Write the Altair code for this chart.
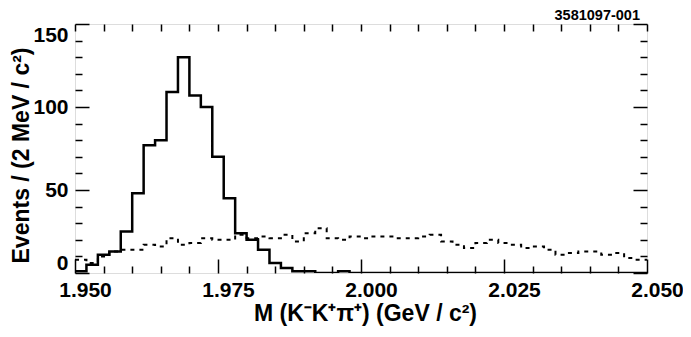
import altair as alt
import pandas as pd

# Histogram bins: 50 bins of 2 MeV from 1.950 to 2.050 GeV
x_start = 1.950
bin_width = 0.002
n_bins = 50

solid = [1, 5, 11, 13, 25, 48, 77, 80, 109, 130,
         107, 100, 70, 45, 24, 20, 14, 6, 3, 1,
         1, 0, 0, 1, 0, 0, 0, 0, 0, 0,
         0, 0, 0, 0, 0, 0, 0, 0, 0, 0,
         0, 0, 0, 0, 0, 0, 0, 0, 0, 0]

dashed = [8, 6, 10, 13, 14, 14, 17, 16, 21, 17,
          18, 21, 20, 20, 23, 21, 22, 21, 23, 19,
          24, 27, 21, 20, 22, 21, 22, 22, 21, 21,
          22, 23, 19, 17, 15, 18, 20, 18, 17, 15,
          16, 14, 11, 12, 13, 13, 11, 12, 9, 8]

x_labels = [1.950, 1.975, 2.000, 2.025, 2.050]
y_labels = [0, 50, 100, 150]
x_minor = [round(1.950 + 0.005 * k, 3) for k in range(21)]
y_minor = list(range(0, 151, 10))
figure_id = ["3581097-001"]

edges = [round(x_start + bin_width * i, 3) for i in range(n_bins + 1)]
df = pd.DataFrame({
    "m": edges,
    "solid": solid + [solid[-1]],
    "dashed": dashed + [dashed[-1]],
})

W, H = 572, 249
FONT = "Liberation Sans"

xscale = alt.Scale(domain=[1.95, 2.05], nice=False, zero=False)
yscale = alt.Scale(domain=[0, 150], nice=False, zero=False)

x_major_test = "abs(datum.value*40 - round(datum.value*40)) < 0.001"
y_major_test = "datum.value % 50 === 0"

base = alt.Chart(df)

solid_line = base.mark_line(interpolate="step-after", color="black",
                            strokeWidth=2.5, clip=True).encode(
    x=alt.X("m:Q", scale=xscale,
            axis=alt.Axis(orient="bottom", values=x_labels, format=".3f",
                          ticks=False, domain=False, grid=False,
                          labelOffset=10, labelPadding=6,
                          labelFont=FONT, labelFontSize=21, labelFontWeight="bold",
                          labelColor="black", labelFlush=False,
                          title="M (K\u207bK\u207a\u03c0\u207a) (GeV / c\u00b2)",
                          titleFont=FONT, titleFontSize=23, titleFontWeight="bold",
                          titleColor="black", titleX=290, titleY=47,
                          titleBaseline="alphabetic")),
    y=alt.Y("solid:Q", scale=yscale,
            axis=alt.Axis(orient="left", values=y_labels, ticks=False,
                          domain=False, grid=False, labelPadding=7,
                          labelFont=FONT, labelFontSize=21, labelFontWeight="bold",
                          labelColor="black", labelFlush=True, labelFlushOffset=0,
                          title="Events / (2 MeV / c\u00b2)",
                          titleFont=FONT, titleFontSize=23, titleFontWeight="bold",
                          titleColor="black", titleX=-47, titleY=131,
                          titleAngle=-90, titleAlign="center",
                          titleBaseline="alphabetic")),
)

dashed_line = base.mark_line(interpolate="step-after", color="black",
                             strokeWidth=2, strokeDash=[4, 5], clip=True).encode(
    x=alt.X("m:Q", scale=xscale,
            axis=alt.Axis(orient="top", offset=-H, values=x_minor,
                          labels=False, domain=False, grid=False, title=None,
                          tickColor="black", tickWidth=1.5,
                          tickSize={"condition": {"test": x_major_test, "value": 14}, "value": 7})),
    y=alt.Y("dashed:Q", scale=yscale,
            axis=alt.Axis(orient="right", offset=-W, values=y_minor,
                          labels=False, domain=False, grid=False, title=None,
                          tickColor="black", tickWidth=1.5,
                          tickSize={"condition": {"test": y_major_test, "value": 14}, "value": 7})),
)

frame_ticks = base.mark_line(opacity=0).encode(
    x=alt.X("m:Q", scale=xscale,
            axis=alt.Axis(orient="bottom", offset=-H, values=x_minor,
                          labels=False, domain=False, grid=False, title=None,
                          tickColor="black", tickWidth=1.5, tickSize=7)),
    y=alt.Y("dashed:Q", scale=yscale,
            axis=alt.Axis(orient="left", offset=-W, values=y_minor,
                          labels=False, domain=False, grid=False, title=None,
                          tickColor="black", tickWidth=1.5,
                          tickSize={"condition": {"test": y_major_test, "value": 14}, "value": 7})),
)

id_text = alt.Chart(pd.DataFrame({"t": figure_id})).mark_text(
    font=FONT, fontSize=14.5, fontWeight="bold", color="black",
    align="right", baseline="alphabetic", clip=False
).encode(text="t:N", x=alt.value(W - 7), y=alt.value(-4.5))

chart = alt.layer(solid_line, dashed_line, frame_ticks, id_text).resolve_axis(
    x="independent", y="independent"
).properties(
    width=W, height=H,
    autosize=alt.AutoSizeParams(type="none"),
    padding={"left": 67, "top": 16, "right": 36, "bottom": 56},
).configure_view(
    stroke="black", strokeWidth=3
).configure(background="white")

chart.save("out.html", embed_options={"renderer": "svg", "actions": False})
